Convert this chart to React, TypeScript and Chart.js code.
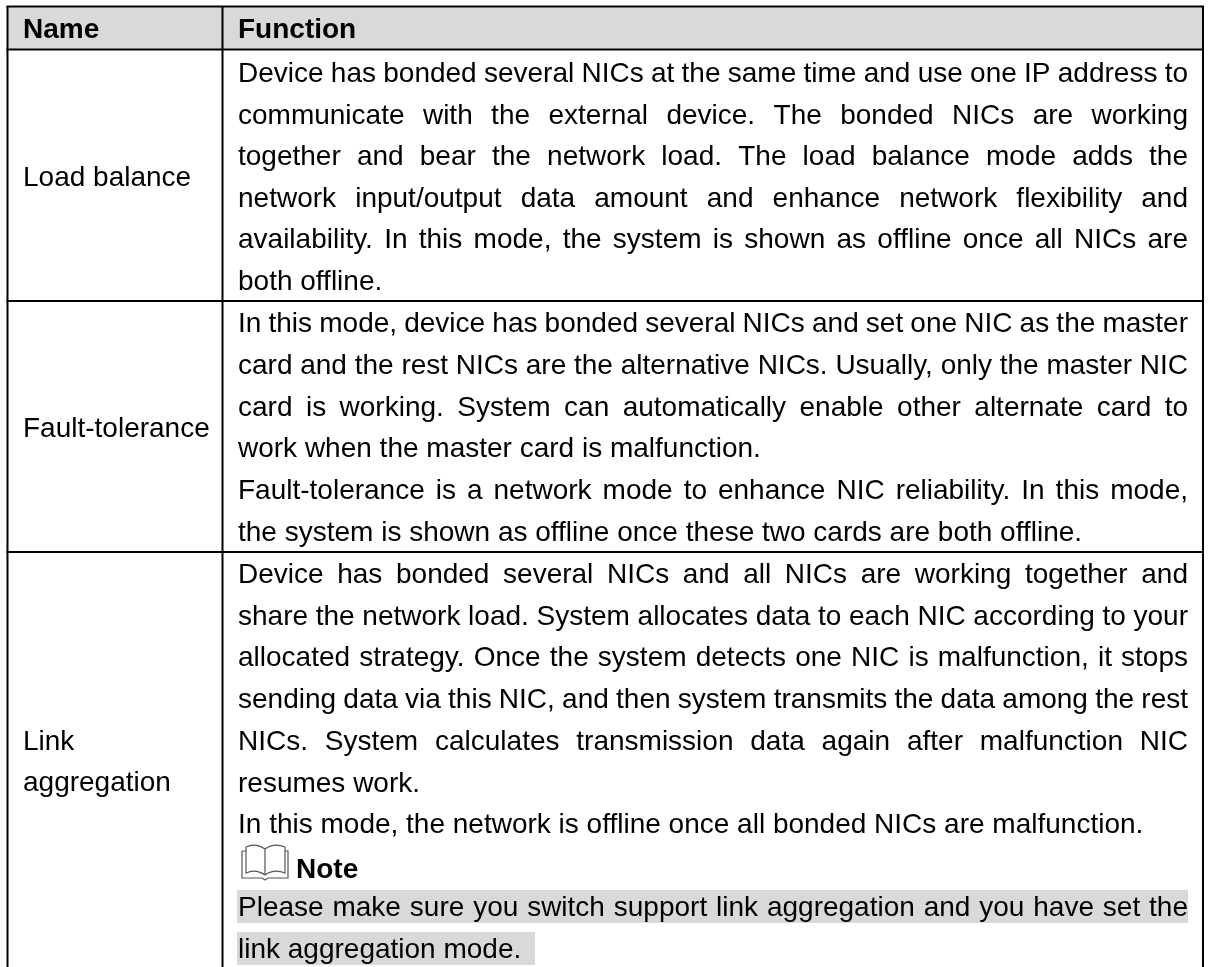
import React, { useEffect, useRef } from "react";
import { Chart, registerables } from "chart.js";

Chart.register(...registerables);

const columnHeaders = ["Name", "Function"];
const rowNames = [["Load balance"], ["Fault-tolerance"], ["Link", "aggregation"]];
// [text, justified]
const row1Lines: [string, boolean][] = [
  ["Device has bonded several NICs at the same time and use one IP address to", true],
  ["communicate with the external device. The bonded NICs are working", true],
  ["together and bear the network load. The load balance mode adds the", true],
  ["network input/output data amount and enhance network flexibility and", true],
  ["availability. In this mode, the system is shown as offline once all NICs are", true],
  ["both offline.", false],
];
const row2Lines: [string, boolean][] = [
  ["In this mode, device has bonded several NICs and set one NIC as the master", true],
  ["card and the rest NICs are the alternative NICs. Usually, only the master NIC", true],
  ["card is working. System can automatically enable other alternate card to", true],
  ["work when the master card is malfunction.", false],
  ["Fault-tolerance is a network mode to enhance NIC reliability. In this mode,", true],
  ["the system is shown as offline once these two cards are both offline.", false],
];
const row3Lines: [string, boolean][] = [
  ["Device has bonded several NICs and all NICs are working together and", true],
  ["share the network load. System allocates data to each NIC according to your", true],
  ["allocated strategy. Once the system detects one NIC is malfunction, it stops", true],
  ["sending data via this NIC, and then system transmits the data among the rest", true],
  ["NICs. System calculates transmission data again after malfunction NIC", true],
  ["resumes work.", false],
  ["In this mode, the network is offline once all bonded NICs are malfunction.", false],
];
const noteTitle = "Note";
const noteLines: [string, boolean][] = [
  ["Please make sure you switch support link aggregation and you have set the", true],
  ["link aggregation mode.", false],
];

const WIDTH = 1209;
const HEIGHT = 967;
const FONT_SIZE = 28;
const FONT = `${FONT_SIZE}px "Liberation Sans", Arial, sans-serif`;
const BOLD = `bold ${FONT_SIZE}px "Liberation Sans", Arial, sans-serif`;
const COL_LEFT = 7.5, COL_MID = 222.5, COL_RIGHT = 1203;
const TEXT1 = 23, TEXT2 = 238, TEXT_RIGHT = 1188;
const HEAD_TOP = 6.5, HEAD_BOTTOM = 49.5, RULE1 = 301, RULE2 = 552, BOTTOM = 967;

const tablePlugin = {
  id: "table",
  beforeDatasetsDraw(chart: any) {
    const { ctx, scales: { x, y } } = chart;
    const X = (v: number) => x.getPixelForValue(v);
    const Y = (v: number) => y.getPixelForValue(v);
    ctx.save();
    ctx.fillStyle = "#ffffff";
    ctx.fillRect(0, 0, WIDTH, HEIGHT);
    ctx.fillStyle = "#d9d9d9";
    ctx.fillRect(X(COL_LEFT), Y(HEAD_TOP), X(COL_RIGHT) - X(COL_LEFT), Y(HEAD_BOTTOM) - Y(HEAD_TOP));
    ctx.fillRect(X(237), Y(890), X(1188) - X(237), 33);
    ctx.fillRect(X(237), Y(932), X(535) - X(237), 33);

    ctx.strokeStyle = "#000000";
    ctx.lineWidth = 2;
    const seg = (a: number, b: number, c: number, d: number) => {
      ctx.beginPath();
      ctx.moveTo(X(a), Y(b));
      ctx.lineTo(X(c), Y(d));
      ctx.stroke();
    };
    seg(COL_LEFT - 1, HEAD_TOP, COL_RIGHT + 1, HEAD_TOP);
    seg(COL_LEFT - 1, HEAD_BOTTOM, COL_RIGHT + 1, HEAD_BOTTOM);
    seg(COL_LEFT - 1, RULE1, COL_RIGHT + 1, RULE1);
    seg(COL_LEFT - 1, RULE2, COL_RIGHT + 1, RULE2);
    seg(COL_LEFT, HEAD_TOP, COL_LEFT, BOTTOM);
    seg(COL_MID, HEAD_TOP, COL_MID, BOTTOM);
    seg(COL_RIGHT, HEAD_TOP, COL_RIGHT, BOTTOM);

    ctx.fillStyle = "#000000";
    ctx.textBaseline = "alphabetic";
    ctx.textAlign = "left";

    ctx.font = BOLD;
    ctx.fillText(columnHeaders[0], X(TEXT1), Y(38));
    ctx.fillText(columnHeaders[1], X(TEXT2), Y(38));

    ctx.font = FONT;
    const drawLine = (line: [string, boolean], base: number) => {
      const [text, just] = line;
      if (!just) {
        ctx.fillText(text, X(TEXT2), Y(base));
        return;
      }
      const words = text.split(" ");
      const total = words.reduce((s, w) => s + ctx.measureText(w).width, 0);
      const gap = (X(TEXT_RIGHT) - X(TEXT2) - total) / (words.length - 1);
      let px = X(TEXT2);
      for (const w of words) {
        ctx.fillText(w, px, Y(base));
        px += ctx.measureText(w).width + gap;
      }
    };
    row1Lines.forEach((l, i) => drawLine(l, 82 + i * 41.6));
    row2Lines.forEach((l, i) => drawLine(l, 332 + i * 41.8));
    row3Lines.forEach((l, i) => drawLine(l, 583 + i * 41.7));
    noteLines.forEach((l, i) => drawLine(l, 916 + i * 42));

    ctx.fillText(rowNames[0][0], X(TEXT1), Y(186));
    ctx.fillText(rowNames[1][0], X(TEXT1), Y(437));
    ctx.fillText(rowNames[2][0], X(TEXT1), Y(750));
    ctx.fillText(rowNames[2][1], X(TEXT1), Y(791));

    ctx.font = BOLD;
    ctx.fillText(noteTitle, X(296), Y(878));

    // book icon
    ctx.strokeStyle = "#555555";
    ctx.lineWidth = 1.2;
    ctx.beginPath();
    ctx.moveTo(X(265), Y(849));
    ctx.bezierCurveTo(X(258), Y(844), X(252), Y(844), X(246), Y(847));
    ctx.lineTo(X(246), Y(873));
    ctx.bezierCurveTo(X(252), Y(870), X(258), Y(870), X(265), Y(875));
    ctx.bezierCurveTo(X(272), Y(870), X(278), Y(870), X(285), Y(873));
    ctx.lineTo(X(285), Y(847));
    ctx.bezierCurveTo(X(278), Y(844), X(272), Y(844), X(265), Y(849));
    ctx.lineTo(X(265), Y(875));
    ctx.moveTo(X(246), Y(851));
    ctx.lineTo(X(242), Y(851));
    ctx.lineTo(X(242), Y(878));
    ctx.lineTo(X(262), Y(878));
    ctx.lineTo(X(265), Y(880));
    ctx.lineTo(X(268), Y(878));
    ctx.lineTo(X(288), Y(878));
    ctx.lineTo(X(288), Y(851));
    ctx.lineTo(X(285), Y(851));
    ctx.stroke();
    ctx.restore();
  },
};

export default function App() {
  const ref = useRef<HTMLCanvasElement>(null);
  useEffect(() => {
    document.body.style.margin = "0";
    const chart = new Chart(ref.current!, {
      type: "scatter",
      data: { datasets: [{ data: [] }] },
      options: {
        animation: false,
        responsive: false,
        layout: { padding: 0 },
        plugins: { legend: { display: false }, tooltip: { enabled: false } },
        scales: {
          x: { type: "linear", min: 0, max: WIDTH, display: false },
          y: { type: "linear", min: 0, max: HEIGHT, reverse: true, display: false },
        },
      },
      plugins: [tablePlugin],
    });
    return () => chart.destroy();
  }, []);
  return <canvas ref={ref} width={WIDTH} height={HEIGHT} style={{ display: "block" }} />;
}
